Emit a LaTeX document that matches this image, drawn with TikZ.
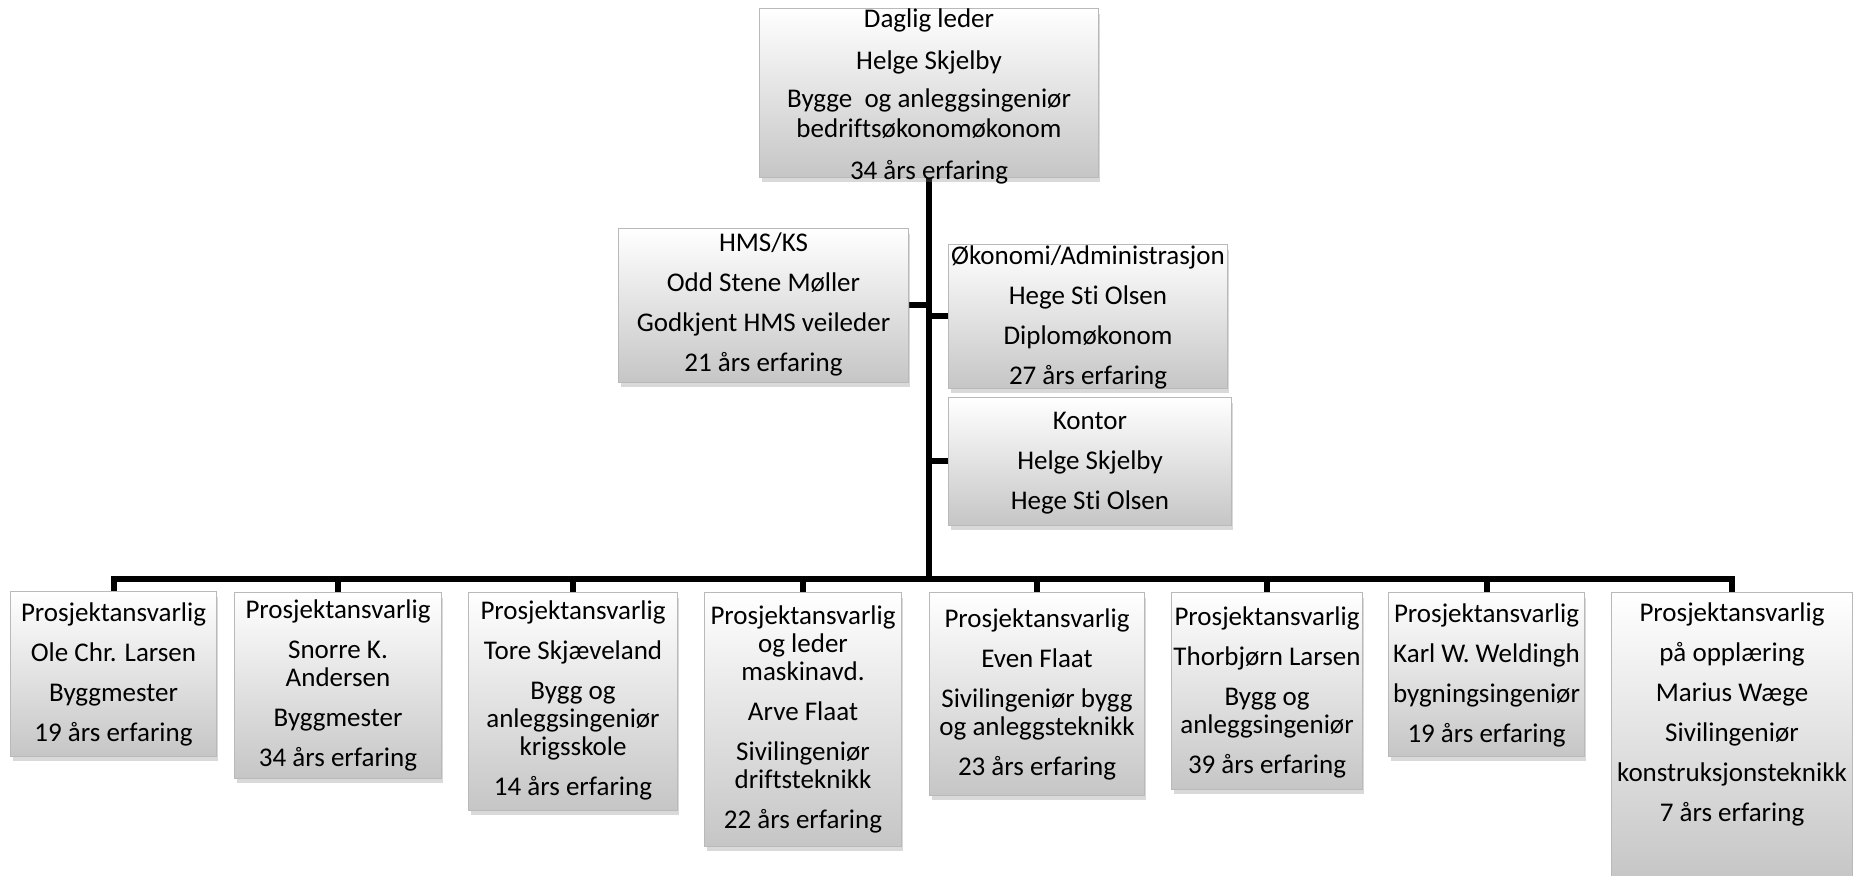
\documentclass[tikz,border=0pt]{standalone}
\usepackage{fontspec}
\setmainfont{Carlito}[Ligatures={NoCommon}]
\usetikzlibrary{fit,shadows}
\tikzset{
  box/.style={draw=gray!55, line width=0.6pt, top color=white, bottom color=gray!45, inner sep=0pt,
    drop shadow={shadow xshift=1pt, shadow yshift=-2.5pt, opacity=0.3}},
  txt/.style={align=center, inner sep=0pt, anchor=north, font=\fontsize{13.5}{14}\selectfont},
  conn/.style={line width=3pt, black},
}
\begin{document}
\begin{tikzpicture}[x=0.5pt,y=-0.5pt]
\useasboundingbox (0,0) rectangle (1853,876);
% box geometry
\node[fit={(760,9) (1098,177)}, inner sep=0pt] (top) {};
\node[fit={(619,229) (908,382)}, inner sep=0pt] (hms) {};
\node[fit={(949,245) (1227,388)}, inner sep=0pt] (oko) {};
\node[fit={(949,398) (1231,525)}, inner sep=0pt] (kon) {};
\node[fit={(11,592) (216,756)}, inner sep=0pt] (ole) {};
\node[fit={(235,593) (441,778)}, inner sep=0pt] (sno) {};
\node[fit={(469,593) (677,810)}, inner sep=0pt] (tor) {};
\node[fit={(705,593) (901,846)}, inner sep=0pt] (arv) {};
\node[fit={(930,593) (1144,795)}, inner sep=0pt] (eve) {};
\node[fit={(1172,593) (1362,789)}, inner sep=0pt] (tho) {};
\node[fit={(1389,593) (1584,756)}, inner sep=0pt] (kar) {};
\node[fit={(1612,593) (1852,880)}, inner sep=0pt] (mar) {};
\coordinate (bar) at (top.south |- 0,579);
% connectors
\draw[conn] (top.south) -- (bar);
\foreach \b in {ole,sno,tor,arv,eve,tho,kar,mar} \draw[conn] (bar) -| (\b.north);
\draw[conn] (hms.east) -- (hms.east -| bar);
\draw[conn] (oko.west) -- (oko.west -| bar);
\draw[conn] (kon.west) -- (kon.west -| bar);
% visible boxes
\foreach \b in {top,hms,oko,kon,ole,sno,tor,arv,eve,tho,kar,mar}
  \node[box, fit=(\b), inner sep=0pt] (\b box) {};
% texts
\node[txt, font=\fontsize{13.5}{15}\selectfont] (topt) at (top.north |- 0,8) {Daglig leder\\[6pt]Helge Skjelby\\[4pt]Bygge\ \ og anleggsingeniør\\bedriftsøkonomøkonom\\[6pt]34 års erfaring};
\node[txt] (hmst) at (hms.north |- 0,232) {HMS/KS\\[6pt]Odd Stene Møller\\[6pt]Godkjent HMS veileder\\[6pt]21 års erfaring};
\node[txt] (okot) at (oko.north |- 0,245) {Økonomi/Administrasjon\\[6pt]Hege Sti Olsen\\[6pt]Diplomøkonom\\[6pt]27 års erfaring};
\node[txt] (kont) at (kon.north |- 0,412) {Kontor\\[6pt]Helge Skjelby\\[6pt]Hege Sti Olsen};
\node[txt] (olet) at (ole.north |- 0,602) {Prosjektansvarlig\\[6pt]Ole Chr. Larsen\\[6pt]Byggmester\\[6pt]19 års erfaring};
\node[txt] (snot) at (sno.north |- 0,599) {Prosjektansvarlig\\[6pt]Snorre K.\\Andersen\\[6pt]Byggmester\\[6pt]34 års erfaring};
\node[txt] (tort) at (tor.north |- 0,600) {Prosjektansvarlig\\[6pt]Tore Skjæveland\\[6pt]Bygg og\\anleggsingeniør\\krigsskole\\[6pt]14 års erfaring};
\node[txt] (arvt) at (arv.north |- 0,605) {Prosjektansvarlig\\og leder\\maskinavd.\\[6pt]Arve Flaat\\[6pt]Sivilingeniør\\driftsteknikk\\[6pt]22 års erfaring};
\node[txt] (evet) at (eve.north |- 0,608) {Prosjektansvarlig\\[6pt]Even Flaat\\[6pt]Sivilingeniør bygg\\og anleggsteknikk\\[6pt]23 års erfaring};
\node[txt] (thot) at (tho.north |- 0,606) {Prosjektansvarlig\\[6pt]Thorbjørn Larsen\\[6pt]Bygg og\\anleggsingeniør\\[6pt]39 års erfaring};
\node[txt] (kart) at (kar.north |- 0,603) {Prosjektansvarlig\\[6pt]Karl W. Weldingh\\[6pt]bygningsingeniør\\[6pt]19 års erfaring};
\node[txt] (mart) at (mar.north |- 0,602) {Prosjektansvarlig\\[6pt]på opplæring\\[6pt]Marius Wæge\\[6pt]Sivilingeniør\\[6pt]konstruksjonsteknikk\\[6pt]7 års erfaring};
\end{tikzpicture}
\end{document}
